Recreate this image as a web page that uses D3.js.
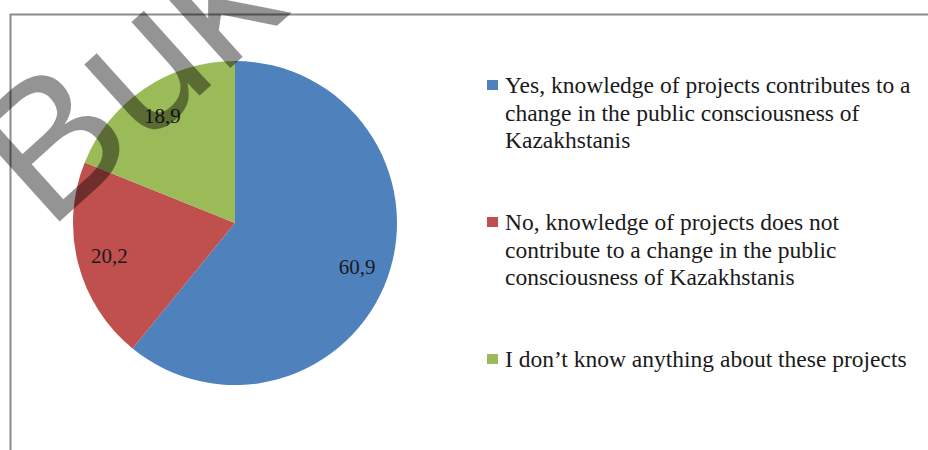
<!DOCTYPE html>
<html><head><meta charset="utf-8">
<script src="https://cdn.jsdelivr.net/npm/d3@7"></script>
<style>body{margin:0;background:#fff}svg{display:block}</style>
</head><body>
<svg id="c" width="928" height="450"></svg>
<script>
const categories = [
  "Yes, knowledge of projects contributes to a change in the public consciousness of Kazakhstanis",
  "No, knowledge of projects does not contribute to a change in the public consciousness of Kazakhstanis",
  "I don\u2019t know anything about these projects"
];
const values = [60.9, 20.2, 18.9];
const valueLabels = ["60,9", "20,2", "18,9"];
const legendLines = [
  ["Yes, knowledge of projects contributes to a", "change in the public consciousness of", "Kazakhstanis"],
  ["No, knowledge of projects does not", "contribute to a change in the public", "consciousness of Kazakhstanis"],
  ["I don\u2019t know anything about these projects"]
];
const colors = ["#4f81bd", "#c0504d", "#9bbb59"];

const svg = d3.select("#c");
const font = "'Liberation Serif','Times New Roman',serif";

// frame
svg.append("path").attr("d","M10.5,450 V14.5 H928").attr("fill","none").attr("stroke","#8c8c8c").attr("stroke-width",2);

const cx = 235, cy = 223, r = 162;
const pie = d3.pie().sort(null).value(d=>d)(values);
const arc = d3.arc().innerRadius(0).outerRadius(r);
const g = svg.append("g").attr("transform",`translate(${cx},${cy})`);
g.selectAll("path").data(pie).join("path").attr("d",arc).attr("fill",(d,i)=>colors[i]);

const labelArc = d3.arc().innerRadius(r*0.8).outerRadius(r*0.8);
g.selectAll("text").data(pie).join("text")
  .attr("transform",d=>`translate(${labelArc.centroid(d)})`)
  .attr("text-anchor","middle").attr("dy","0.35em")
  .attr("font-family",font).attr("font-size",21).attr("fill","#1a1a1a")
  .text((d,i)=>valueLabels[i]);

// legend
const legendTop = [85, 222, 359];
const lh = 27.5;
const lg = svg.append("g");
categories.forEach((c,i)=>{
  const y0 = legendTop[i];
  lg.append("rect").attr("x",487).attr("y",y0-5).attr("width",11).attr("height",10).attr("fill",colors[i]);
  const t = lg.append("text").attr("font-family",font).attr("font-size",23.5).attr("fill","#1a1a1a");
  legendLines[i].forEach((ln,j)=>{
    t.append("tspan").attr("x",505).attr("y",y0+j*lh).attr("dy","0.35em").text(ln);
  });
});

// watermark
svg.append("text").attr("transform","translate(48,232) rotate(-42)")
  .attr("font-family","'Liberation Sans',Arial,sans-serif").attr("font-size",190)
  .attr("fill","#000").attr("fill-opacity",0.42).text("Buk");
</script>
</body></html>
